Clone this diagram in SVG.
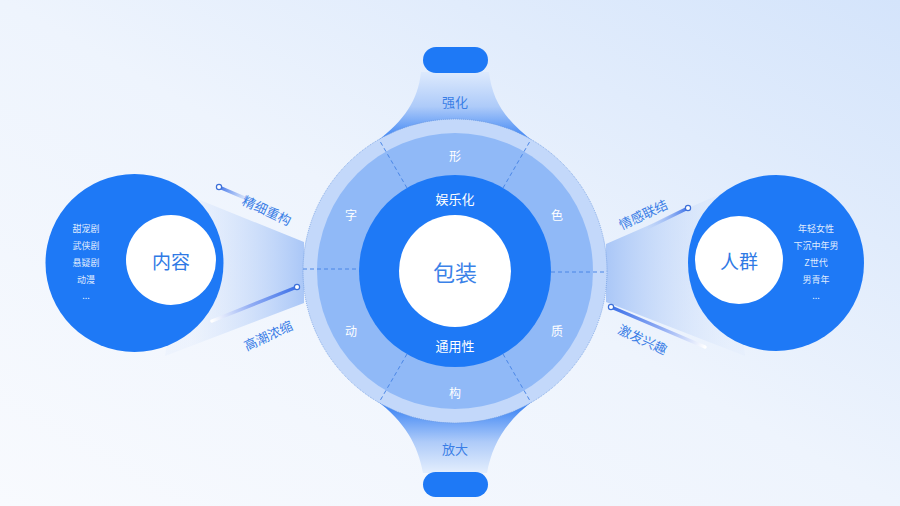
<svg xmlns="http://www.w3.org/2000/svg" width="900" height="506" viewBox="0 0 900 506">
<defs>
<linearGradient id="bg" x1="0" y1="1" x2="1" y2="0">
<stop offset="0" stop-color="#f8fafe"/>
<stop offset="0.5" stop-color="#eef4fd"/>
<stop offset="1" stop-color="#d4e4fb"/>
</linearGradient>
<linearGradient id="flareTop" gradientUnits="userSpaceOnUse" x1="0" y1="73" x2="0" y2="140">
<stop offset="0" stop-color="#dce9fd"/>
<stop offset="0.5" stop-color="#aecbf9"/>
<stop offset="1" stop-color="#3a83f4"/>
</linearGradient>
<linearGradient id="flareBot" gradientUnits="userSpaceOnUse" x1="0" y1="405" x2="0" y2="472">
<stop offset="0" stop-color="#3a83f4"/>
<stop offset="0.55" stop-color="#aecbf9"/>
<stop offset="1" stop-color="#e2edfd"/>
</linearGradient>
<linearGradient id="beamL" gradientUnits="userSpaceOnUse" x1="190" y1="0" x2="304" y2="0">
<stop offset="0" stop-color="#d6e4fb" stop-opacity="0.2"/>
<stop offset="1" stop-color="#aac7f7"/>
</linearGradient>
<linearGradient id="beamR" gradientUnits="userSpaceOnUse" x1="606" y1="0" x2="730" y2="0">
<stop offset="0" stop-color="#aac7f7"/>
<stop offset="1" stop-color="#d6e4fb" stop-opacity="0.2"/>
</linearGradient>
<linearGradient id="stUL" gradientUnits="userSpaceOnUse" x1="219" y1="187" x2="254" y2="202">
<stop offset="0" stop-color="#3c70e8"/>
<stop offset="1" stop-color="#9dbcf6" stop-opacity="0"/>
</linearGradient>
<linearGradient id="stLL" gradientUnits="userSpaceOnUse" x1="297" y1="287" x2="212" y2="321">
<stop offset="0" stop-color="#3c70e8"/>
<stop offset="0.55" stop-color="#93aef4"/>
<stop offset="1" stop-color="#ffffff"/>
</linearGradient>
<linearGradient id="stUR" gradientUnits="userSpaceOnUse" x1="688" y1="208" x2="645" y2="229">
<stop offset="0" stop-color="#3c70e8"/>
<stop offset="1" stop-color="#9dbcf6" stop-opacity="0"/>
</linearGradient>
<linearGradient id="stLR" gradientUnits="userSpaceOnUse" x1="611" y1="307" x2="705" y2="347">
<stop offset="0" stop-color="#3c70e8"/>
<stop offset="0.55" stop-color="#93aef4"/>
<stop offset="1" stop-color="#ffffff"/>
</linearGradient>
<style>
text{font-family:"Noto Sans CJK SC","Noto Sans",sans-serif;text-anchor:middle;dominant-baseline:central}
.w{fill:#ffffff}
.seg{fill:#ffffff;font-size:12px}
.blue{fill:#1e79f6}
.lbl{fill:#3a7ee6;font-size:13px}
.list{fill:#ffffff;fill-opacity:0.88;font-size:9px}
.dash{stroke:#4a86e6;stroke-width:1;stroke-dasharray:4 3;fill:none}
.stick{stroke-width:3.5;stroke-linecap:round;fill:none}
.dot{fill:#ffffff;stroke:#3c6fd8;stroke-width:1.2}
</style>
</defs>
<rect width="900" height="506" fill="url(#bg)"/>
<g id="connectors">
<path d="M190 196 L304 242 L304 303 L165 356 Z" fill="url(#beamL)"/>
<path d="M606 244 L725 192 L745 356 L606 302 Z" fill="url(#beamR)"/>
<path d="M421 72 C418 100 405 120 376 142 L534 142 C505 120 492 100 489 72 Z" fill="url(#flareTop)"/>
<path d="M376 400 C405 422 418 445 423 473 L487 473 C492 445 505 422 534 400 Z" fill="url(#flareBot)"/>
<line class="stick" x1="219" y1="187" x2="254" y2="202" stroke="url(#stUL)"/>
<line class="stick" x1="297" y1="287" x2="212" y2="321" stroke="url(#stLL)"/>
<line class="stick" x1="688" y1="208" x2="645" y2="229" stroke="url(#stUR)"/>
<line class="stick" x1="611" y1="307" x2="705" y2="347" stroke="url(#stLR)"/>
<circle class="dot" cx="219" cy="187" r="2.6"/>
<circle class="dot" cx="297" cy="287" r="2.6"/>
<circle class="dot" cx="688" cy="208" r="2.6"/>
<circle class="dot" cx="611" cy="307" r="2.6"/>
<text class="lbl" transform="translate(267 210) rotate(25)">精细重构</text>
<text class="lbl" transform="translate(268 335) rotate(-25)">高潮浓缩</text>
<text class="lbl" transform="translate(643 214) rotate(-25)">情感联结</text>
<text class="lbl" transform="translate(643 339) rotate(25)">激发兴趣</text>
<text class="lbl" x="455" y="101">强化</text>
<text class="lbl" x="455" y="448">放大</text>
</g>
<g id="top-pill">
<rect class="blue" x="423" y="47" width="65" height="26" rx="13"/>
</g>
<g id="bottom-pill">
<rect class="blue" x="423" y="472" width="65" height="25" rx="12.5"/>
</g>
<g id="center">
<circle cx="455" cy="271" r="152" fill="#c3d8fa"/>
<circle cx="455" cy="271" r="152" fill="none" stroke="#6e9be0" stroke-width="0.8" stroke-dasharray="1 1"/>
<circle cx="455" cy="271" r="138" fill="#90b9f7"/>
<line class="dash" x1="407" y1="188" x2="379" y2="139.5"/>
<line class="dash" x1="503" y1="188" x2="531" y2="139.5"/>
<line class="dash" x1="407" y1="354" x2="379" y2="402.5"/>
<line class="dash" x1="503" y1="354" x2="531" y2="402.5"/>
<line class="dash" x1="303" y1="269" x2="359" y2="269"/>
<line class="dash" x1="551" y1="272" x2="607" y2="272"/>
<circle class="blue" cx="455" cy="271" r="96"/>
<circle cx="455" cy="271" r="56" fill="#ffffff"/>
<text class="seg" x="455" y="155">形</text>
<text class="seg" x="351" y="214">字</text>
<text class="seg" x="557" y="214">色</text>
<text class="seg" x="351" y="330">动</text>
<text class="seg" x="557" y="330">质</text>
<text class="seg" x="455" y="392">构</text>
<text class="w" x="455" y="198" font-size="13">娱乐化</text>
<text class="w" x="455" y="345" font-size="13">通用性</text>
<text x="455" y="271" font-size="22" fill="#3b82e8">包装</text>
</g>
<g id="content-node">
<circle class="blue" cx="134.5" cy="263" r="89"/>
<circle cx="171" cy="260" r="45" fill="#ffffff"/>
<text x="171" y="260" font-size="19" fill="#2f7ae5">内容</text>
<text class="list" x="86" y="228">甜宠剧</text>
<text class="list" x="86" y="245">武侠剧</text>
<text class="list" x="86" y="262">悬疑剧</text>
<text class="list" x="86" y="279">动漫</text>
<text class="list" x="86" y="295">...</text>
</g>
<g id="crowd-node">
<circle class="blue" cx="776" cy="263" r="88"/>
<circle cx="739" cy="260" r="44" fill="#ffffff"/>
<text x="739" y="260" font-size="19" fill="#2f7ae5">人群</text>
<text class="list" x="816" y="228">年轻女性</text>
<text class="list" x="816" y="245">下沉中年男</text>
<text class="list" x="816" y="262">Z世代</text>
<text class="list" x="816" y="279">男青年</text>
<text class="list" x="816" y="295">...</text>
</g>
</svg>
